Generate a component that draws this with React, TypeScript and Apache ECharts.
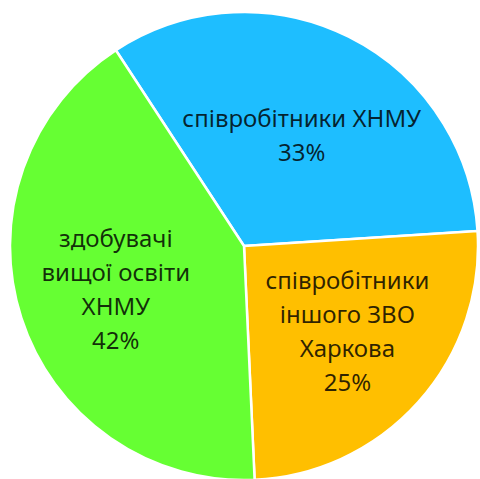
import React, { useEffect, useRef } from "react";
import * as echarts from "echarts";

const categories = [
  "співробітники ХНМУ",
  "співробітники\nіншого ЗВО\nХаркова",
  "здобувачі\nвищої освіти\nХНМУ",
];
const values = [33.2, 25.3, 41.5];
const colors = ["#1EBEFF", "#FFBF00", "#66FF33"];
const labelShift = [
  [4, -4],
  [14, 4],
  [-14, 6],
];

export default function App() {
  const ref = useRef<HTMLDivElement>(null);
  useEffect(() => {
    if (!ref.current) return;
    const chart = echarts.init(ref.current, null, { renderer: "svg" });
    chart.setOption({
      animation: false,
      backgroundColor: "#ffffff",
      series: [
        {
          type: "pie",
          center: [244, 246],
          radius: 234,
          startAngle: 123.2,
          clockwise: true,
          percentPrecision: 0,
          avoidLabelOverlap: false,
          itemStyle: { borderColor: "#ffffff", borderWidth: 2.5 },
          label: {
            show: true,
            position: "inside",
            formatter: "{b}\n{d}%",
            fontFamily: "Noto Sans",
            fontSize: 24,
            lineHeight: 34,
            color: "rgba(0,0,0,0.82)",
            align: "center",
          },
          labelLine: { show: false },
          labelLayout: (p: any) => ({
            dx: labelShift[p.dataIndex][0],
            dy: labelShift[p.dataIndex][1],
          }),
          data: categories.map((name, i) => ({
            name,
            value: values[i],
            itemStyle: { color: colors[i] },
          })),
        },
      ],
    });
    return () => chart.dispose();
  }, []);
  return (
    <div
      ref={ref}
      style={{ position: "absolute", left: 0, top: 0, width: 480, height: 479 }}
    />
  );
}
